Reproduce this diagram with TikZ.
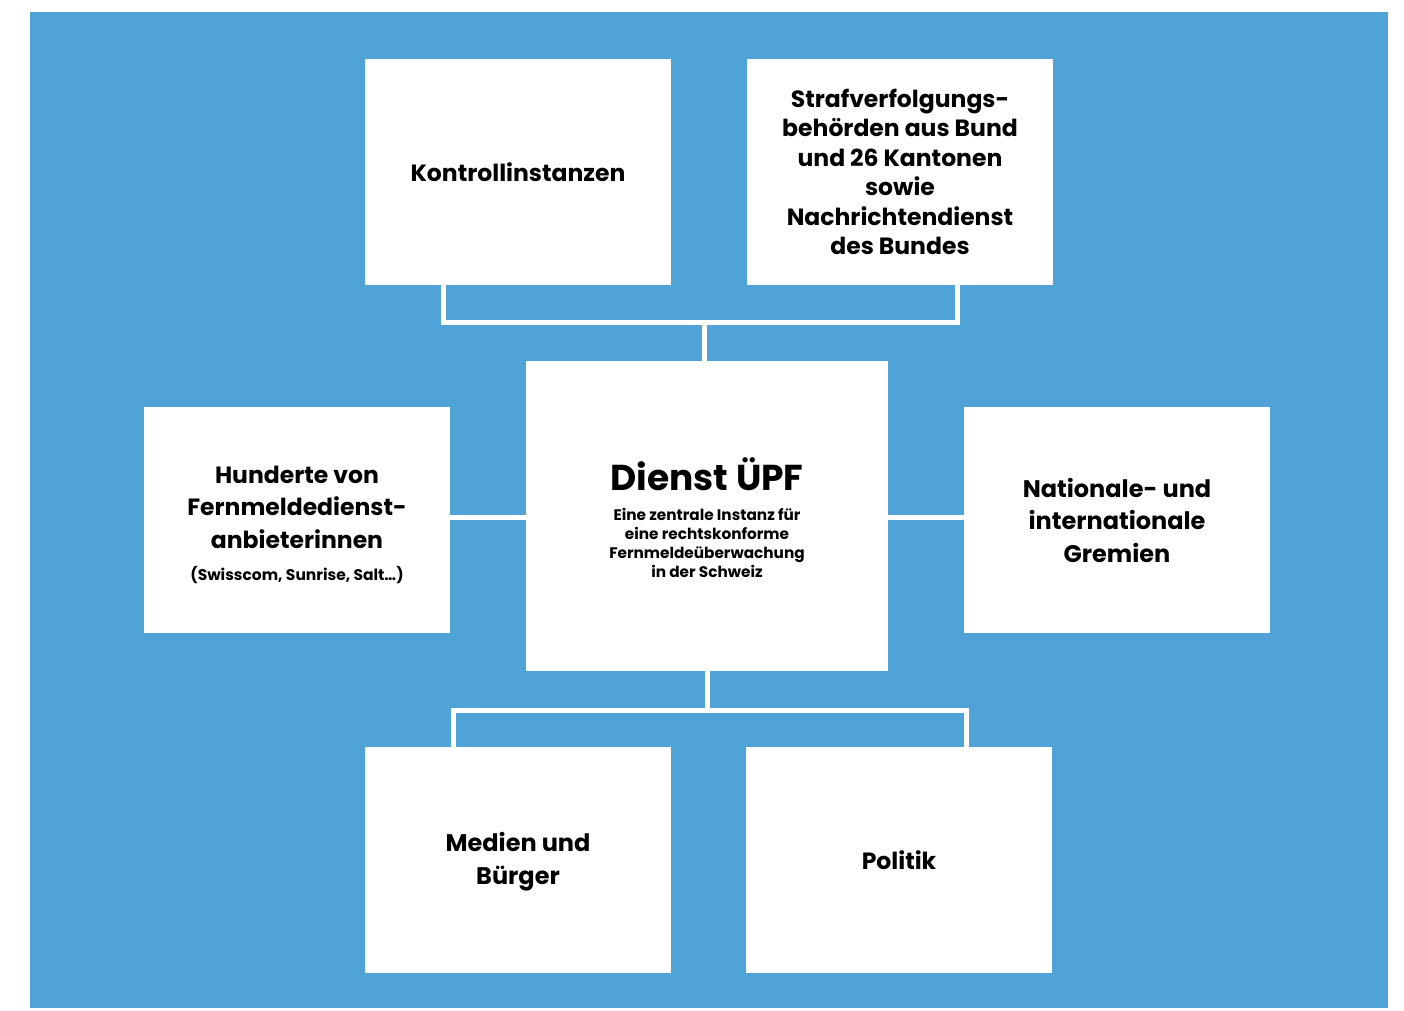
\documentclass[tikz,border=0pt]{standalone}
\usepackage{fontspec}
\setmainfont{Poppins}
\definecolor{upfblue}{RGB}{79,163,215}
\tikzset{
  box/.style={fill=white, minimum width=306pt, minimum height=226pt, align=center, font=\bfseries\fontsize{23.5}{29.5}\selectfont},
  label/.style={align=center, font=\bfseries\fontsize{23.5}{32.5}\selectfont},
  link/.style={draw=white, line width=5pt},
}
\begin{document}
\begin{tikzpicture}[x=1pt,y=-1pt]
    \useasboundingbox (0,0) rectangle (1404,1010);
    \fill[upfblue] (30,12) rectangle (1388,1008);
    % connectors
    \coordinate (topjoin) at (704,322);
    \coordinate (botjoin) at (707,710);
    \draw[link] (443,285) |- (topjoin) -| (957,285);
    \draw[link] (topjoin) -- (704,361);
    \draw[link] (707,671) -- (botjoin);
    \draw[link] (453,747) |- (botjoin) -| (966,747);
    \draw[link] (450,517) -- (526,517);
    \draw[link] (888,517) -- (964,517);
    % boxes
    \node[box] (kontroll) at (518,172) {Kontrollinstanzen};
    \node[box] (straf) at (900,172) {Strafverfolgungs-\\behörden aus Bund\\und 26 Kantonen\\sowie\\Nachrichtendienst\\des Bundes};
    \node[box, minimum width=362pt, minimum height=310pt] (upf) at (707,516) {};
    \node[font=\bfseries\fontsize{36}{42}\selectfont] (upftitle) at (707,474) {Dienst ÜPF};
    \node[align=center, font=\bfseries\fontsize{15.3}{19}\selectfont] (upftext) at (707,543) {Eine zentrale Instanz für\\eine rechtskonforme\\Fernmeldeüberwachung\\in der Schweiz};
    \node[box] (hundertbox) at (297,520) {};
    \node[label] (hundert) at (297,507) {Hunderte von\\Fernmeldedienst-\\anbieterinnen};
    \node[font=\bfseries\fontsize{15.5}{18}\selectfont] (provider) at (297,575) {(Swisscom, Sunrise, Salt\dots)};
    \node[box, font=\bfseries\fontsize{24}{32.5}\selectfont] (gremien) at (1117,520) {Nationale- und\\internationale\\Gremien};
    \node[box] (medienbox) at (518,860) {};
    \node[label, font=\bfseries\fontsize{24}{33}\selectfont] (medien) at (518,862) {Medien und\\Bürger};
    \node[box] (politik) at (899,860) {Politik};
\end{tikzpicture}
\end{document}
